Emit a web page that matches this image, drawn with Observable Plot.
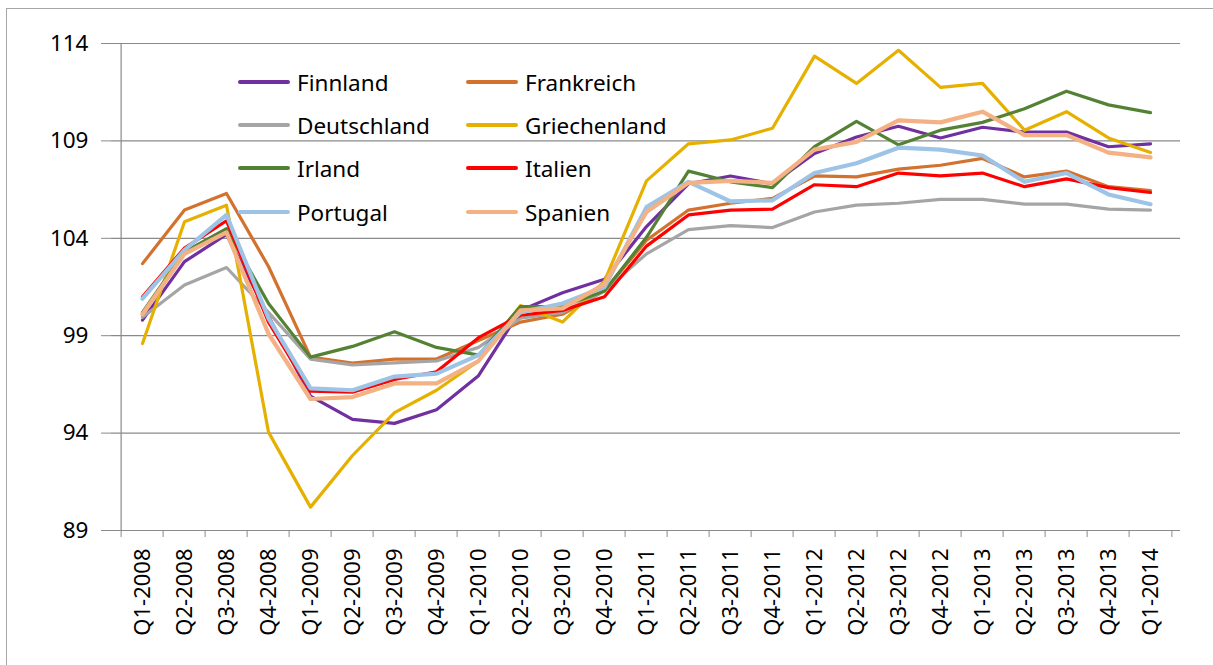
<!DOCTYPE html>
<html>
<head>
<meta charset="utf-8">
<script src="https://cdn.jsdelivr.net/npm/d3@7"></script>
<script src="https://cdn.jsdelivr.net/npm/@observablehq/plot@0.6"></script>
<style>
  html, body { margin: 0; padding: 0; background: #fff; overflow: hidden; }
  #wrap { position: relative; width: 1213px; height: 665px; font-family: "Noto Sans", sans-serif; }
  #frame { position: absolute; left: 6px; top: 8px; width: 1400px; height: 800px;
           border-left: 1px solid #a6a6a6; border-top: 1px solid #a6a6a6; pointer-events: none; }
  #chart { position: absolute; left: 0; top: 0; }
  #legend { position: absolute; left: 0; top: 0; }
  .item { position: absolute; display: flex; align-items: center; height: 30px; font-size: 22.5px; color: #000; white-space: nowrap; }
  .item .sw { width: 52px; margin-right: 7px; border-radius: 2px; }
</style>
</head>
<body>
<div id="wrap">
  <div id="frame"></div>
  <div id="chart"></div>
  <div id="legend"></div>
</div>
<script>
const quarters = ["Q1-2008","Q2-2008","Q3-2008","Q4-2008","Q1-2009","Q2-2009","Q3-2009","Q4-2009",
  "Q1-2010","Q2-2010","Q3-2010","Q4-2010","Q1-2011","Q2-2011","Q3-2011","Q4-2011",
  "Q1-2012","Q2-2012","Q3-2012","Q4-2012","Q1-2013","Q2-2013","Q3-2013","Q4-2013","Q1-2014"];
const yTicks = [89, 94, 99, 104, 109, 114];

const countries = ["Finnland","Frankreich","Deutschland","Griechenland","Irland","Italien","Portugal","Spanien"];
const colors = ["#7030A0","#D2722E","#A5A5A5","#E6B000","#548235","#FF0000","#9DC3E6","#F4B183"];

const finnland     = [99.8,102.8,104.2,100.0,95.9,94.7,94.5,95.2,96.95,100.3,101.2,101.9,104.6,106.8,107.2,106.8,108.35,109.2,109.75,109.15,109.7,109.45,109.45,108.7,108.85];
const frankreich   = [102.7,105.45,106.3,102.55,97.9,97.6,97.8,97.8,98.75,99.7,100.1,101.3,103.9,105.45,105.8,106.05,107.2,107.15,107.55,107.75,108.1,107.15,107.45,106.65,106.45];
const deutschland  = [99.95,101.6,102.5,100.2,97.8,97.5,97.6,97.7,98.4,99.9,100.2,101.3,103.2,104.45,104.65,104.55,105.35,105.7,105.8,106.0,106.0,105.75,105.75,105.5,105.45];
const griechenland = [98.6,104.85,105.7,94.05,90.2,92.85,95.05,96.2,97.7,100.55,99.7,101.8,106.95,108.85,109.05,109.65,113.35,111.95,113.65,111.75,111.95,109.55,110.5,109.15,108.4];
const irland       = [100.2,103.3,104.5,100.65,97.9,98.45,99.2,98.4,98.0,100.5,100.5,101.3,104.05,107.45,106.9,106.6,108.7,110.0,108.8,109.55,109.95,110.65,111.55,110.85,110.45];
const italien      = [101.0,103.5,104.9,99.7,96.15,96.1,96.75,97.15,98.9,100.05,100.3,101.0,103.6,105.2,105.45,105.5,106.75,106.65,107.35,107.2,107.35,106.65,107.05,106.6,106.35];
const portugal     = [100.9,103.4,105.2,99.9,96.3,96.2,96.9,97.05,98.0,100.2,100.65,101.5,105.6,106.9,105.9,105.95,107.35,107.85,108.65,108.55,108.25,106.9,107.35,106.25,105.75];
const spanien      = [100.1,103.2,104.3,99.1,95.75,95.85,96.55,96.55,97.7,100.3,100.4,101.65,105.35,106.85,106.95,106.85,108.55,108.95,110.05,109.95,110.5,109.3,109.3,108.4,108.15];

const seriesValues = [finnland, frankreich, deutschland, griechenland, irland, italien, portugal, spanien];
const widths = [3.2, 3.2, 3.2, 3.2, 3.2, 3.2, 4.2, 4.2];

const W = 1213, H = 665, mL = 111, mR = 33, mT = 43, mB = 135;
const step = (W - mL - mR) / quarters.length;

const lineMarks = countries.map((c, i) =>
  Plot.line(quarters.map((q, j) => ({q, v: seriesValues[i][j]})),
    {x: "q", y: "v", stroke: colors[i], strokeWidth: widths[i], strokeLinejoin: "round", strokeLinecap: "round"})
);

const chart = Plot.plot({
  width: W, height: H,
  marginLeft: mL, marginRight: mR, marginTop: mT, marginBottom: mB,
  style: {fontFamily: "'Noto Sans', sans-serif", background: "transparent", overflow: "visible"},
  x: {type: "point", domain: quarters, padding: 0.5, axis: null, label: null},
  y: {domain: [89, 114], axis: null, label: null},
  marks: [
    Plot.gridY(yTicks, {stroke: "#8a8a8a", strokeOpacity: 1, strokeWidth: 1.2}),
    Plot.ruleX([quarters[0]], {dx: -step / 2, stroke: "#8a8a8a", strokeWidth: 1.2}),
    Plot.axisY(yTicks, {tickSize: 10, tickPadding: 13, fontSize: 22.5, stroke: "#8a8a8a", color: "#000", tickFormat: d => d, label: null}),
    Plot.axisX(quarters, {tickSize: 7, dx: -step / 2, stroke: "#8a8a8a", tickFormat: () => "", label: null}),
    Plot.axisX([quarters[quarters.length - 1]], {tickSize: 7, dx: step / 2, stroke: "#8a8a8a", tickFormat: () => "", label: null}),
    Plot.axisX(quarters, {tickSize: 0, tickPadding: 18, tickRotate: -90, fontSize: 22, color: "#000", label: null}),
    ...lineMarks
  ]
});
document.getElementById("chart").appendChild(chart);

// legend (two columns, row-wise order)
const legend = document.getElementById("legend");
const colX = [238, 466];
const rowY = [82, 125, 168, 212];
countries.forEach((c, i) => {
  const el = document.createElement("div");
  el.className = "item";
  el.style.left = colX[i % 2] + "px";
  el.style.top = (rowY[Math.floor(i / 2)] - 15) + "px";
  const sw = document.createElement("span");
  sw.className = "sw";
  sw.style.height = widths[i] + "px";
  sw.style.background = colors[i];
  const t = document.createElement("span");
  t.textContent = c;
  el.appendChild(sw);
  el.appendChild(t);
  legend.appendChild(el);
});
</script>
</body>
</html>
